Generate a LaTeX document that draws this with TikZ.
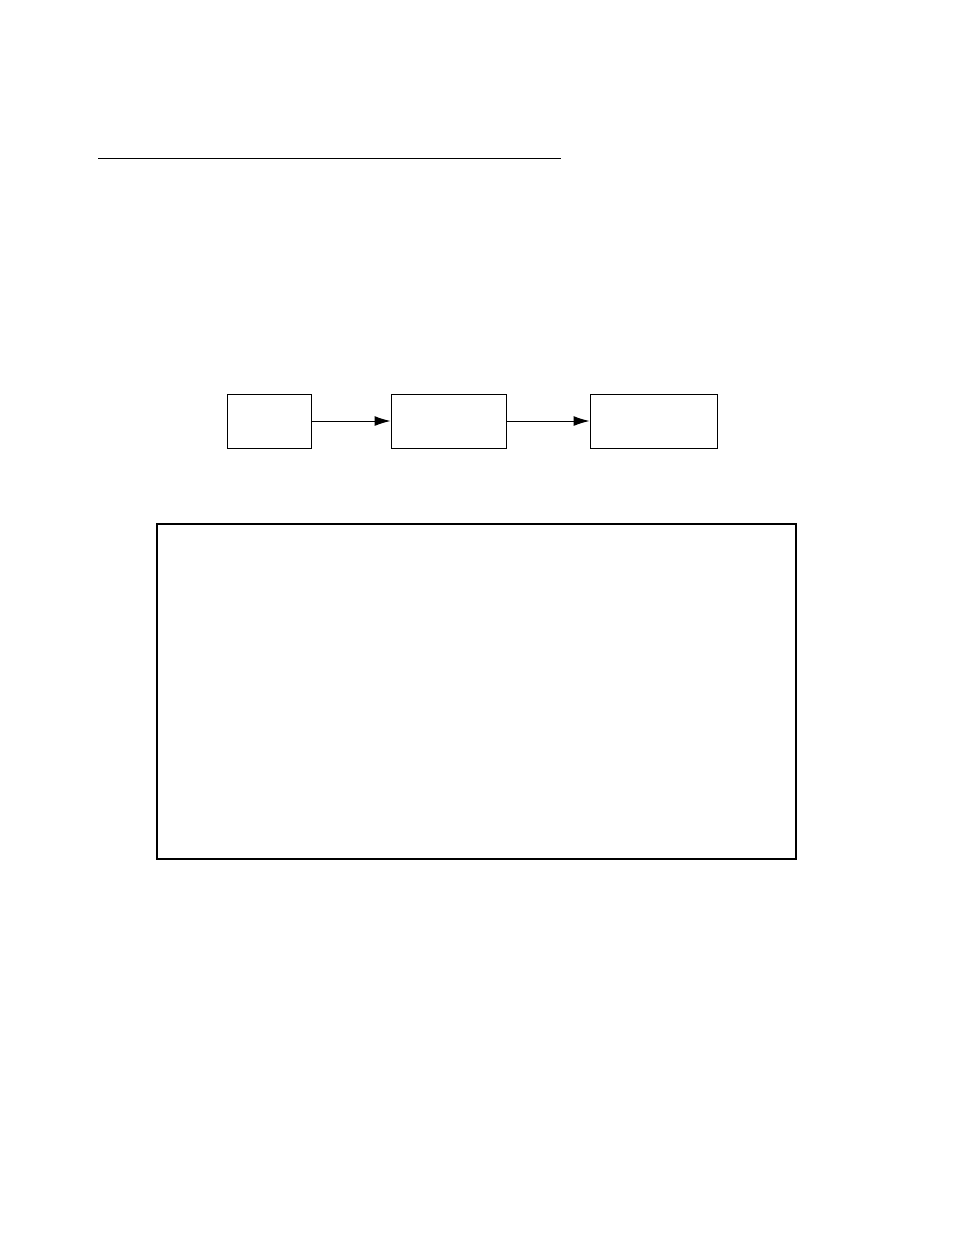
\documentclass[tikz,border=0pt]{standalone}
\usepackage{tikz}
\usetikzlibrary{arrows.meta}
\begin{document}
\begin{tikzpicture}[x=1pt,y=-1pt]
\tikzstyle{blk}=[draw,line width=1pt,inner sep=0pt,minimum height=54pt]
\useasboundingbox (0,0) rectangle (954,1235);
\draw[line width=1pt](98,158)--(561,158);
\node[blk,minimum width=84pt] (src) at (269,421) {};
\node[blk,minimum width=115pt] (mid) at (448.5,421) {};
\node[blk,minimum width=127pt] (dst) at (653.5,421) {};
\draw[-{Latex[length=16pt,width=10pt]},line width=1pt](src)--(mid);
\draw[-{Latex[length=16pt,width=10pt]},line width=1pt](mid)--(dst);
\node[draw,line width=2pt,inner sep=0pt,minimum width=639pt,minimum height=335pt] (frame) at (476.5,691.5) {};
\end{tikzpicture}
\end{document}
